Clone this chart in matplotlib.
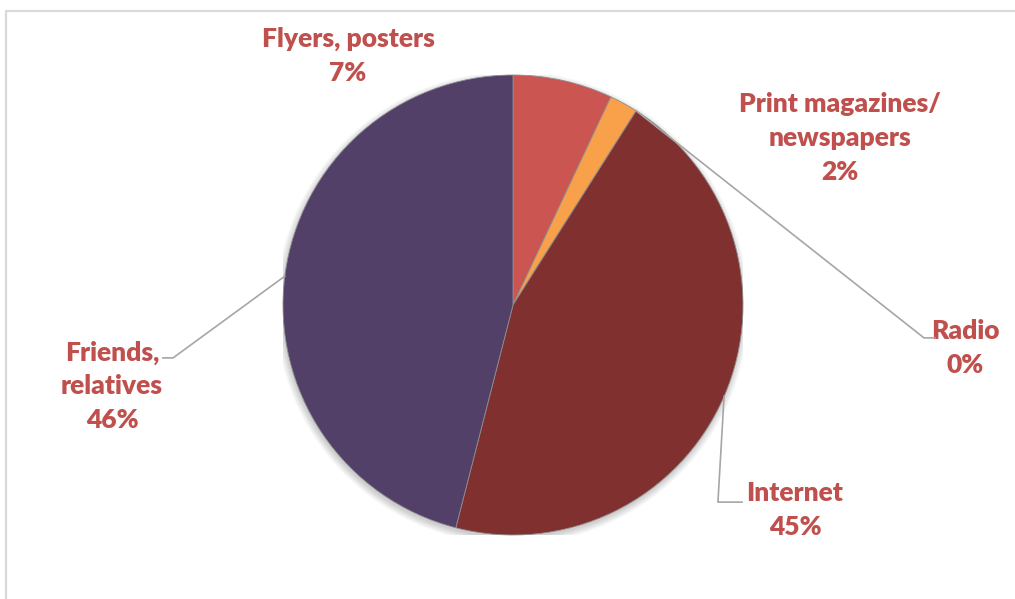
import numpy as np
import matplotlib.pyplot as plt
from matplotlib.patches import Circle

# share of respondents by information source
sources = ['Flyers, posters', 'Print magazines/\nnewspapers', 'Radio',
           'Internet', 'Friends,\nrelatives']
shares = [7, 2, 0, 45, 46]
colors = ['#CB5550', '#F9A04A', '#9BBB59', '#80302F', '#524069']

# label centres (pie radius = 1) and leader elbows, None = no leader
label_xy = [(-0.717, 1.083), (1.422, 0.726), (1.965, -0.187),
            (1.226, -0.891), (-1.743, -0.352)]
elbows = [None, None, ((1.787, -0.143), (1.835, -0.143)),
          ((0.891, -0.857), (0.996, -0.857)),
          ((-1.478, -0.230), (-1.522, -0.230))]

txt_color = '#C0504D'
plt.rcParams['font.family'] = ['Lato', 'DejaVu Sans']

W, H = 1015, 599
fig = plt.figure(figsize=(W / 100, H / 100), dpi=100)
cx, cy, r = 513, 305, 230
ax = fig.add_axes([(cx - r) / W, (H - cy - r) / H, 2 * r / W, 2 * r / H])

# soft shadow under the pie
for k in range(8):
    ax.add_patch(Circle((-0.004, -0.012), 1.0 + 0.004 * k, color='k',
                        alpha=0.025, lw=0, zorder=0))

wedges, _ = ax.pie(shares, colors=colors, startangle=90, counterclock=False,
                   radius=1.0, wedgeprops=dict(edgecolor='#8E8E8E', linewidth=0.6))
ax.set_xlim(-1, 1)
ax.set_ylim(-1, 1)
ax.set_aspect('equal')
ax.axis('off')

for w, name, val, (lx, ly), el in zip(wedges, sources, shares, label_xy, elbows):
    ax.text(lx, ly, f'{name}\n{val}%', ha='center', va='center', fontsize=19,
            fontweight='heavy', color=txt_color, linespacing=1.48, clip_on=False)
    if el is None:
        continue
    mid = np.deg2rad((w.theta1 + w.theta2) / 2)
    sx, sy = np.cos(mid), np.sin(mid)
    (ex, ey), (tx, ty) = el
    ax.plot([sx, ex, tx], [sy, ey, ty], color='#A6A6A6', lw=1.2,
            clip_on=False, zorder=3)

# chart area frame
fig.add_artist(plt.Line2D([6 / W, 6 / W, 1.01], [-0.01, 1 - 11 / H, 1 - 11 / H],
                          color='#D9D9D9', lw=1.6, transform=fig.transFigure))

fig.savefig('out.png', dpi=100)
